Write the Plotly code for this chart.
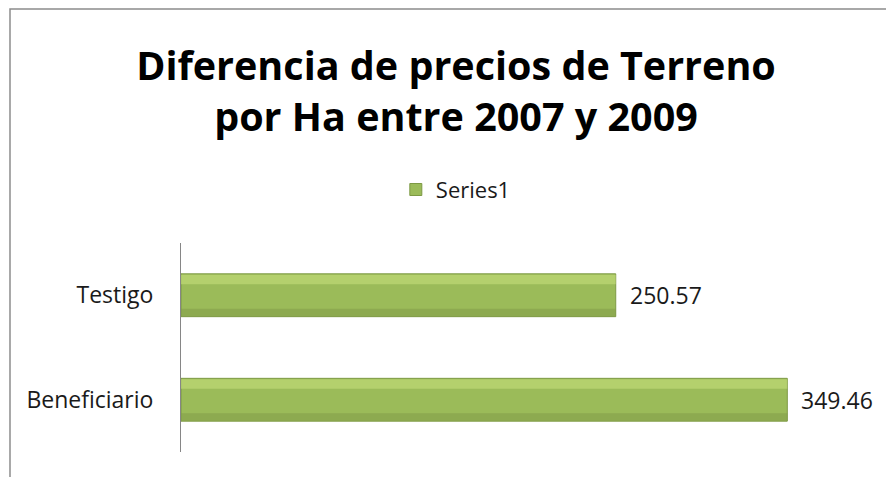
import plotly.graph_objects as go

categorias = ["Beneficiario", "Testigo"]
valores = [349.46, 250.57]
etiquetas = ["349.46", "250.57"]
serie = "Series1"

verde = "#9bbb59"
verde_claro = "#c4de7c"
verde_oscuro = "#7f9a47"
verde_borde = "#7d9944"
fuente = "Open Sans"

fig = go.Figure()

# barra principal
fig.add_trace(go.Bar(
    x=valores, y=categorias, orientation="h", name=serie,
    marker=dict(color=verde, line=dict(color=verde_borde, width=1)),
    width=0.41, showlegend=True,
))
# brillo arriba y sombra abajo (imitando el degradado de Excel)
fig.add_trace(go.Bar(
    x=valores, y=categorias, orientation="h", name=serie,
    marker=dict(color=verde_claro, opacity=0.6, line=dict(width=0)),
    width=0.09, offset=0.105, showlegend=False, hoverinfo="skip",
))
fig.add_trace(go.Bar(
    x=valores, y=categorias, orientation="h", name=serie,
    marker=dict(color=verde_oscuro, opacity=0.5, line=dict(width=0)),
    width=0.07, offset=-0.2, showlegend=False, hoverinfo="skip",
))

for cat, val, txt in zip(categorias, valores, etiquetas):
    fig.add_annotation(x=val, y=cat, text=txt, showarrow=False,
                       xanchor="left", xshift=12,
                       font=dict(family=fuente, size=23, color="#1a1a1a"))

fig.update_layout(
    width=894, height=477,
    paper_bgcolor="white", plot_bgcolor="white",
    margin=dict(l=173, r=27, t=235, b=33),
    barmode="overlay",
    font=dict(family=fuente, size=23, color="#1a1a1a"),
    title=dict(text="<b>Diferencia de precios de Terreno<br>por Ha entre 2007 y 2009</b>",
               x=448 / 894, xanchor="center", y=0.85, yanchor="top",
               font=dict(family=fuente, size=39.5, color="black")),
    legend=dict(orientation="h", x=0.396, xanchor="center", y=1.255, yanchor="middle",
                font=dict(size=22), itemwidth=30),
    xaxis=dict(range=[0, 400], visible=False),
    yaxis=dict(showline=True, linecolor="#868686", linewidth=1,
               showgrid=False, ticks="", ticklabelstandoff=22),
    shapes=[dict(type="rect", xref="paper", yref="paper",
                 x0=-0.2464, x1=1.1, y0=-0.4, y1=2.1196,
                 line=dict(color="#8c8c8c", width=1.5), layer="below")],
)

fig.write_html("out.html")
